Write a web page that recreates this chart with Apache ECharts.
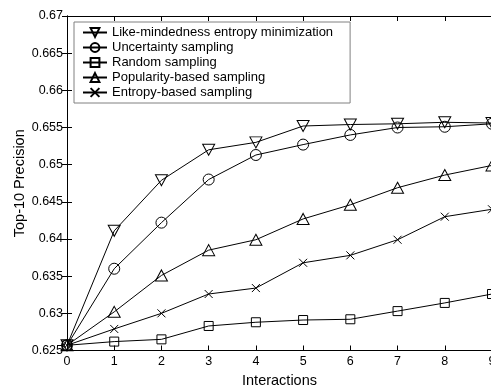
<!DOCTYPE html>
<html><head><meta charset="utf-8">
<script src="https://cdn.jsdelivr.net/npm/echarts@6/dist/echarts.min.js"></script>
<style>html,body{margin:0;padding:0;background:#fff}#c{width:491px;height:391px}</style>
</head><body><div id="c"></div>
<script>
const interactions = [0,1,2,3,4,5,6,7,8,9];
const likeMindedness = [0.6257,0.6411,0.6479,0.6520,0.6530,0.6552,0.6554,0.6555,0.6557,0.6556];
const uncertainty    = [0.6257,0.6360,0.6422,0.6480,0.6513,0.6527,0.6540,0.6550,0.6551,0.6555];
const randomS        = [0.6257,0.6262,0.6265,0.6283,0.6288,0.6291,0.6292,0.6303,0.6314,0.6326];
const popularity     = [0.6257,0.6302,0.6351,0.6385,0.6399,0.6427,0.6446,0.6469,0.6486,0.6499];
const entropy        = [0.6257,0.6279,0.6300,0.6326,0.6334,0.6368,0.6378,0.6399,0.6430,0.6440];
const seriesNames = ['Like-mindedness entropy minimization','Uncertainty sampling','Random sampling','Popularity-based sampling','Entropy-based sampling'];
const yTicks = ['0.625','0.63','0.635','0.64','0.645','0.65','0.655','0.66','0.665','0.67'];

const chart = echarts.init(document.getElementById('c'));
const font = 'Liberation Sans, Arial, sans-serif';
const pair = arr => interactions.map((x,i)=>[x,arr[i]]);
const cross = 'path://M0,0L10,10M10,0L0,10';
function mk(name, data, symbol, size, rot){
  return {
    name, type:'line', data: pair(data), symbol, symbolSize:size, symbolRotate:rot||0,
    showAllSymbol:true,
    lineStyle:{color:'#000',width:1},
    itemStyle:{color:'rgba(0,0,0,0)',borderColor:'#000',borderWidth:1},
    emphasis:{disabled:true}, animation:false, z:3
  };
}
const tickInside = {show:true,inside:true,length:5,lineStyle:{color:'#000'}};
chart.setOption({
  backgroundColor:'#fff',
  animation:false,
  grid:{left:67,top:16,right:-1,bottom:40.5,containLabel:false,outerBoundsMode:'none'},
  legend:{
    orient:'vertical', left:74, top:22,
    padding:[3,17,3,8], itemGap:0, itemWidth:24, itemHeight:11,
    borderColor:'#808080', borderWidth:1, backgroundColor:'#fff',
    textStyle:{fontFamily:font,fontSize:13,color:'#000',lineHeight:15},
    data:seriesNames
  },
  xAxis:[{
    type:'value', min:0, max:9, interval:1,
    name:'Interactions', nameLocation:'middle', nameGap:23, nameMoveOverlap:false,
    nameTextStyle:{fontFamily:font,fontSize:14.5,color:'#000'},
    axisLine:{show:true,lineStyle:{color:'#000'}},
    axisTick:tickInside,
    axisLabel:{fontFamily:font,fontSize:12.5,color:'#000',margin:5},
    splitLine:{show:false}
  },{
    type:'value', min:0, max:9, interval:1, position:'top',
    axisLine:{show:true,lineStyle:{color:'#000'}},
    axisTick:tickInside, axisLabel:{show:false}, splitLine:{show:false}
  }],
  yAxis:[{
    type:'value', min:0.625, max:0.67, interval:0.005,
    name:'Top-10 Precision', nameLocation:'middle', nameGap:40, nameMoveOverlap:false,
    nameTextStyle:{fontFamily:font,fontSize:14.5,color:'#000'},
    axisLine:{show:true,lineStyle:{color:'#000'}},
    axisTick:tickInside,
    axisLabel:{fontFamily:font,fontSize:12.5,color:'#000',margin:4,
      formatter:(v)=>{const i=Math.round((v-0.625)/0.005);return yTicks[i]!==undefined?yTicks[i]:'';}},
    splitLine:{show:false}
  },{
    type:'value', min:0.625, max:0.67, interval:0.005, position:'right',
    axisLine:{show:true,lineStyle:{color:'#000'}},
    axisTick:tickInside, axisLabel:{show:false}, splitLine:{show:false}
  }],
  series:[
    mk(seriesNames[0], likeMindedness, 'triangle', [12,11], 180),
    mk(seriesNames[1], uncertainty, 'circle', 11),
    mk(seriesNames[2], randomS, 'rect', 9),
    mk(seriesNames[3], popularity, 'triangle', [12,11]),
    mk(seriesNames[4], entropy, cross, 8)
  ]
});
</script></body></html>
